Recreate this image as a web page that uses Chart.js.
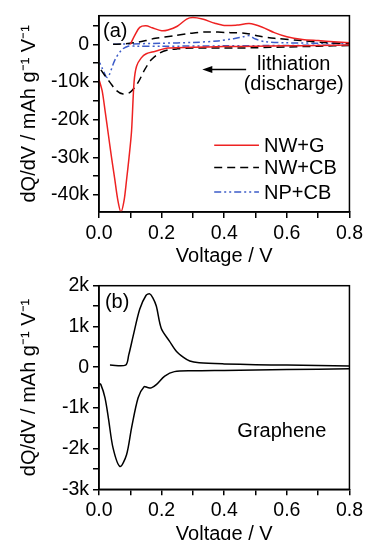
<!DOCTYPE html>
<html>
<head>
<meta charset="utf-8">
<script src="https://cdn.jsdelivr.net/npm/chart.js@4.4.1/dist/chart.umd.min.js"></script>
<style>
  html, body { margin: 0; padding: 0; background: #fff; overflow: hidden; }
  #wrap { position: relative; width: 367px; height: 540px; overflow: hidden; }
  canvas { position: absolute; left: 0; }
</style>
</head>
<body>
<div id="wrap">
  <canvas id="chartA" width="367" height="270" style="top:0"></canvas>
  <canvas id="chartB" width="367" height="278" style="top:270px"></canvas>
</div>
<script>
// Panel (a): NW+G, NW+CB, NP+CB (V, mAh g-1 V-1)
const voltNwgCh = [0.10, 0.115, 0.13, 0.15, 0.17, 0.20, 0.22, 0.25, 0.28, 0.30, 0.33, 0.37, 0.40, 0.44, 0.48, 0.52, 0.56, 0.60, 0.65, 0.70, 0.75, 0.80];
const nwgCh = [0, 2500, 4500, 4900, 4400, 3600, 3800, 4800, 6700, 7100, 6700, 5600, 5000, 5100, 5500, 4600, 3100, 2000, 1300, 1000, 700, 400];
const voltNwgDis = [0.80, 0.70, 0.60, 0.50, 0.40, 0.30, 0.22, 0.178, 0.151, 0.135, 0.12, 0.112, 0.104, 0.096, 0.088, 0.08, 0.07, 0.06, 0.05, 0.04, 0.03, 0.02, 0.01, 0.0];
const nwgDis = [-200, -300, -400, -500, -600, -800, -1000, -1900, -2500, -3600, -5800, -10000, -23000, -30000, -36000, -41500, -44500, -41300, -35600, -30000, -24000, -18000, -12300, -9300];

const voltNwcbCh = [0.045, 0.08, 0.11, 0.15, 0.18, 0.24, 0.29, 0.34, 0.42, 0.47, 0.51, 0.56, 0.65, 0.73, 0.80];
const nwcbCh = [0, 100, 400, 1000, 1600, 2300, 2900, 3300, 3100, 2900, 2200, 1600, 1000, 400, 200];
const voltNwcbDis = [0.80, 0.70, 0.60, 0.50, 0.40, 0.30, 0.25, 0.22, 0.194, 0.167, 0.146, 0.125, 0.10, 0.077, 0.056, 0.035, 0.018, 0.0];
const nwcbDis = [-300, -500, -700, -900, -1000, -1000, -1200, -1500, -2300, -4100, -6700, -10100, -12700, -13200, -12300, -10100, -8200, -6000];

const voltNpcbCh = [0.045, 0.10, 0.20, 0.30, 0.38, 0.43, 0.46, 0.48, 0.50, 0.53, 0.60, 0.70, 0.80];
const npcbCh = [0, 100, 300, 500, 900, 1500, 2000, 2300, 1400, 700, 400, 300, 200];
const voltNpcbDis = [0.80, 0.60, 0.40, 0.20, 0.12, 0.093, 0.072, 0.051, 0.027, 0.01, 0.0];
const npcbDis = [-200, -300, -400, -500, -500, -500, -1500, -4100, -8800, -6300, -4400];

// Panel (b): Graphene
const voltGrCh = [0.035, 0.085, 0.095, 0.109, 0.13, 0.15, 0.162, 0.172, 0.183, 0.199, 0.225, 0.247, 0.27, 0.29, 0.32, 0.40, 0.50, 0.60, 0.70, 0.80];
const grCh = [50, 50, 300, 760, 1420, 1760, 1800, 1700, 1500, 950, 640, 390, 240, 150, 110, 80, 60, 50, 40, 30];
const voltGrDis = [0.80, 0.60, 0.40, 0.30, 0.241, 0.21, 0.183, 0.167, 0.155, 0.144, 0.125, 0.104, 0.088, 0.067, 0.045, 0.03, 0.019, 0.006, 0.0];
const grDis = [-40, -60, -80, -90, -110, -220, -430, -510, -500, -480, -750, -1490, -2150, -2440, -1990, -1250, -750, -430, -400];

// axis ticks (labelled every second tick)
const voltTicks = [0, 0.1, 0.2, 0.3, 0.4, 0.5, 0.6, 0.7, 0.8];
const yTicksA = [-40000, -35000, -30000, -25000, -20000, -15000, -10000, -5000, 0, 5000];
const yTicksB = [-3000, -2500, -2000, -1500, -1000, -500, 0, 500, 1000, 1500, 2000];
const yRangeA = [-44500, 7600];
const yRangeB = [-3000, 2000];

const FONT = "'Liberation Sans', Arial, sans-serif";
const RED = '#ee2222';
const BLUE = '#3d5cc9';

function pts(xs, ys) {
    return xs.map((x, i) => ({ x: x, y: ys[i] }));
}

function line(label, xs, ys, color, dash, legend) {
    return {
        label: label,
        data: pts(xs, ys),
        borderColor: color,
        borderDash: dash,
        borderWidth: 1.5,
        pointRadius: 0,
        tension: 0.3,
        fill: false,
        showInLegend: legend
    };
}

// frame, texts, arrow and legend drawn on top
const extras = {
    id: 'extras',
    afterDraw(chart, args, opts) {
        const ctx = chart.ctx;
        const a = chart.chartArea;
        const xs = chart.scales.x, ys = chart.scales.y;
        ctx.save();
        ctx.strokeStyle = '#000';
        ctx.lineWidth = 1.5;
        ctx.strokeRect(a.left, a.top, a.right - a.left, a.bottom - a.top);
        ctx.fillStyle = '#000';
        ctx.font = '20px ' + FONT;
        ctx.textBaseline = 'middle';
        (opts.texts || []).forEach(t => {
            ctx.textAlign = t.align || 'left';
            ctx.fillText(t.text, xs.getPixelForValue(t.x), ys.getPixelForValue(t.y));
        });
        if (opts.arrow) {
            const x1 = xs.getPixelForValue(opts.arrow.from), x2 = xs.getPixelForValue(opts.arrow.to);
            const y = ys.getPixelForValue(opts.arrow.y);
            ctx.lineWidth = 1.5;
            ctx.beginPath();
            ctx.moveTo(x2, y);
            ctx.lineTo(x1 + 6, y);
            ctx.stroke();
            ctx.beginPath();
            ctx.moveTo(x1, y);
            ctx.lineTo(x1 + 10, y - 3.5);
            ctx.lineTo(x1 + 10, y + 3.5);
            ctx.closePath();
            ctx.fill();
        }
        if (opts.legend) {
            const L = opts.legend;
            const items = chart.data.datasets.filter(d => d.showInLegend);
            items.forEach((d, i) => {
                const y = ys.getPixelForValue(L.rows[i]);
                ctx.strokeStyle = d.borderColor;
                ctx.lineWidth = 1.5;
                ctx.setLineDash(d.borderDash || []);
                ctx.beginPath();
                ctx.moveTo(xs.getPixelForValue(L.x0), y);
                ctx.lineTo(xs.getPixelForValue(L.x1), y);
                ctx.stroke();
                ctx.setLineDash([]);
                ctx.fillStyle = '#000';
                ctx.textAlign = 'left';
                ctx.fillText(d.label, xs.getPixelForValue(L.tx), y + 1);
            });
        }
        ctx.restore();
    }
};

function makeChart(id, datasets, yRange, yTicks, yLabelStep, padTop, padRight, xHeight, extraOpts) {
    return new Chart(document.getElementById(id), {
        type: 'line',
        data: { datasets: datasets },
        options: {
            responsive: false,
            animation: false,
            devicePixelRatio: 1,
            layout: { padding: { top: padTop, right: padRight, left: 0, bottom: 0 } },
            plugins: { legend: { display: false }, tooltip: { enabled: false }, extras: extraOpts },
            scales: {
                x: {
                    type: 'linear',
                    bounds: 'data',
                    min: voltTicks[0],
                    max: voltTicks[voltTicks.length - 1],
                    afterBuildTicks: s => { s.ticks = voltTicks.map(v => ({ value: v })); },
                    afterFit: s => { s.height = xHeight; },
                    grid: { drawOnChartArea: false, drawTicks: true, tickLength: 6, color: '#000', lineWidth: 1.5 },
                    border: { display: true, color: '#000', width: 1.5 },
                    ticks: {
                        autoSkip: false,
                        maxRotation: 0,
                        color: '#000',
                        padding: 4,
                        font: { family: FONT, size: 19.5 },
                        callback: v => (Math.round(v * 10) % 2 === 0 ? v.toFixed(1) : '')
                    },
                    title: { display: true, text: 'Voltage / V', color: '#000', font: { family: FONT, size: 20 }, padding: { top: 0, bottom: 2 } }
                },
                y: {
                    type: 'linear',
                    bounds: 'data',
                    min: yRange[0],
                    max: yRange[1],
                    afterBuildTicks: s => { s.ticks = yTicks.map(v => ({ value: v })); },
                    afterFit: s => { s.width = 99; },
                    grid: { drawOnChartArea: false, drawTicks: true, tickLength: 6, color: '#000', lineWidth: 1.5 },
                    border: { display: true, color: '#000', width: 1.5 },
                    ticks: {
                        autoSkip: false,
                        color: '#000',
                        padding: 4,
                        font: { family: FONT, size: 19.5 },
                        callback: v => (v % yLabelStep === 0 ? (v === 0 ? '0' : (v / 1000) + 'k') : '')
                    },
                    title: { display: true, text: 'dQ/dV / mAh g\u207B\u00B9 V\u207B\u00B9', color: '#000', font: { family: FONT, size: 20 }, padding: { top: 17, bottom: 0 } }
                }
            }
        },
        plugins: [extras]
    });
}

makeChart('chartA', [
    line('NW+G', voltNwgCh, nwgCh, RED, [], true),
    line('NW+G', voltNwgDis, nwgDis, RED, [], false),
    line('NW+CB', voltNwcbCh, nwcbCh, '#000', [8, 5], true),
    line('NW+CB', voltNwcbDis, nwcbDis, '#000', [8, 5], false),
    line('NP+CB', voltNpcbCh, npcbCh, BLUE, [7, 3, 2, 3, 2, 3], true),
    line('NP+CB', voltNpcbDis, npcbDis, BLUE, [7, 3, 2, 3, 2, 3], false)
], yRangeA, yTicksA, 10000, 12, 16, 58, {
    texts: [
        { text: '(a)', x: 0.013, y: 3400 },
        { text: 'lithiation', x: 0.622, y: -5400, align: 'center' },
        { text: '(discharge)', x: 0.622, y: -10600, align: 'center' }
    ],
    arrow: { from: 0.33, to: 0.47, y: -6700 },
    legend: { x0: 0.368, x1: 0.511, tx: 0.527, rows: [-26800, -32700, -39200] }
});

makeChart('chartB', [
    line('Graphene', voltGrCh, grCh, '#000', [], false),
    line('Graphene', voltGrDis, grDis, '#000', [], false)
], yRangeB, yTicksB, 1000, 15.7, 14, 58.7, {
    texts: [
        { text: '(b)', x: 0.019, y: 1590 },
        { text: 'Graphene', x: 0.584, y: -1580, align: 'center' }
    ]
});
</script>
</body>
</html>
